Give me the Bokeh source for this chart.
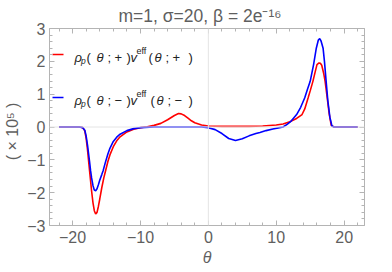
from bokeh.plotting import figure
from bokeh.models import Range1d, LinearAxis, SingleIntervalTicker, Span, Label, Title
from bokeh.embed import file_html
from bokeh.resources import INLINE

# ---- data (values in units of 1e5) ----
theta_red = [-22, -20, -19, -18.5, -18.2, -18.0, -17.8, -17.5, -17.2, -17.0,
             -16.8, -16.6, -16.4, -16.2, -16.0, -15.7, -15.4, -15.1, -14.8, -14.5,
             -14.0, -13.5, -13.0, -12.0, -11.0, -10.0, -9.0, -8.0, -7.0, -6.0,
             -5.0, -4.4, -4.0, -3.5, -3.0, -2.5, -2.0, -1.0, 0, 2,
             4, 6, 8, 10, 11, 12, 13, 13.8, 14.2, 14.7,
             15.0, 15.4, 15.7, 16.0, 16.3, 16.5, 16.7, 17.0, 17.2, 17.5,
             17.8, 18.1, 18.5, 20, 22]
val_red = [0, 0, 0, -0.02, -0.12, -0.35, -0.7, -1.33, -1.95, -2.3,
           -2.55, -2.65, -2.6, -2.42, -2.2, -1.85, -1.55, -1.3, -1.05, -0.85,
           -0.6, -0.42, -0.3, -0.15, -0.07, -0.02, 0.01, 0.05, 0.11, 0.22,
           0.35, 0.41, 0.40, 0.35, 0.27, 0.19, 0.13, 0.06, 0.03, 0.02,
           0.02, 0.02, 0.03, 0.06, 0.09, 0.16, 0.26, 0.38, 0.55, 0.89,
           1.1, 1.39, 1.65, 1.9, 1.95, 1.94, 1.88, 1.62, 1.39, 0.9,
           0.4, 0.05, 0, 0, 0]

theta_blue = [-22, -20, -19, -18.5, -18.2, -18.0, -17.8, -17.5, -17.35, -17.2,
              -17.0, -16.8, -16.6, -16.4, -16.2, -16.0, -15.7, -15.5, -15.2, -14.8,
              -14.5, -14.0, -13.5, -13.0, -12.0, -11.0, -10.0, -8.0, -6.0, -4.0,
              -2.0, -1.0, 0, 1, 2, 3, 4, 5, 6, 7,
              7.6, 8.5, 9.5, 10.5, 11, 11.6, 12.2, 13.0, 13.6, 14.2,
              14.6, 15.0, 15.5, 15.9, 16.2, 16.4, 16.6, 16.9, 17.1, 17.35,
              17.6, 17.9, 18.2, 18.5, 20, 22]
val_blue = [0, 0, 0, -0.02, -0.1, -0.28, -0.55, -1.05, -1.33, -1.55,
            -1.78, -1.92, -1.94, -1.88, -1.76, -1.62, -1.45, -1.33, -1.1, -0.82,
            -0.65, -0.44, -0.31, -0.22, -0.11, -0.05, -0.02, 0, 0, 0,
            0, 0, -0.02, -0.08, -0.2, -0.35, -0.41, -0.36, -0.27, -0.2,
            -0.17, -0.11, -0.06, -0.02, 0.0, 0.08, 0.18, 0.38, 0.6, 0.89,
            1.15, 1.39, 1.9, 2.4, 2.65, 2.69, 2.62, 2.4, 2.0, 1.39,
            0.8, 0.3, 0.03, 0, 0, 0]

x_ticks_minus = {-20: "\u221220", -10: "\u221210"}
y_ticks_minus = {-1: "\u22121", -2: "\u22122", -3: "\u22123"}

title_text = "m=1, \u03c3=20, \u03b2 = 2e\u207b\u00b9\u2076"
x_label = "\u03b8"
y_label = "(  \u00d7 10\u2075  )"

FONT = "Liberation Sans"
GRAY = "#5f5f5f"
FRAME = "#b4b4b4"

X0, X1 = -23.4, 23.0
Y0, Y1 = -3.0, 3.0
W, H = 392, 272
BL, BR, BT, BB = 49, 28, 28, 47
FW, FH = W - BL - BR, H - BT - BB

p = figure(width=W, height=H, output_backend="svg", toolbar_location=None,
           title=None, x_range=Range1d(X0, X1), y_range=Range1d(Y0, Y1),
           min_border_left=BL, min_border_right=BR, min_border_top=BT,
           min_border_bottom=BB, x_axis_type=None, y_axis_type=None)
p.outline_line_color = None
p.xgrid.visible = False
p.ygrid.visible = False
p.background_fill_color = "white"
p.border_fill_color = "white"


def make_axis(ticker, show_labels, overrides):
    ax = LinearAxis(ticker=ticker)
    ax.axis_line_color = FRAME
    ax.major_tick_line_color = FRAME
    ax.minor_tick_line_color = FRAME
    ax.major_tick_in = 5
    ax.major_tick_out = 0
    ax.minor_tick_in = 3
    ax.minor_tick_out = 0
    ax.major_label_text_font = FONT
    if show_labels:
        ax.major_label_text_color = GRAY
        ax.major_label_text_font_size = "16px"
        ax.major_label_overrides = overrides
    else:
        ax.major_label_text_color = None
        ax.major_label_text_font_size = "1px"
        ax.major_label_standoff = 0
    return ax


xb = make_axis(SingleIntervalTicker(interval=10, num_minor_ticks=5), True, x_ticks_minus)
xb.major_label_standoff = 5
xb.axis_label = x_label
xb.axis_label_text_font = FONT
xb.axis_label_text_font_style = "italic"
xb.axis_label_text_font_size = "16px"
xb.axis_label_text_color = GRAY
xb.axis_label_standoff = 3

yl = make_axis(SingleIntervalTicker(interval=1, num_minor_ticks=5), True, y_ticks_minus)
yl.major_label_standoff = 4
yl.axis_label = y_label
yl.axis_label_text_font = FONT
yl.axis_label_text_font_style = "normal"
yl.axis_label_text_font_size = "16px"
yl.axis_label_text_color = GRAY
yl.axis_label_standoff = 3

xt = make_axis(SingleIntervalTicker(interval=10, num_minor_ticks=5), False, {})
yr = make_axis(SingleIntervalTicker(interval=1, num_minor_ticks=5), False, {})
p.add_layout(xb, "below")
p.add_layout(yl, "left")
p.add_layout(xt, "above")
p.add_layout(yr, "right")

p.add_layout(Title(text=title_text, align="left", offset=69, standoff=5,
                   text_font=FONT, text_font_size="17.5px", text_color=GRAY,
                   text_font_style="normal"), "above")

p.add_layout(Span(location=0, dimension="width", line_color="#e4e4e4", line_width=1))
p.add_layout(Span(location=0, dimension="height", line_color="#e4e4e4", line_width=1))

p.line(theta_red, val_red, line_color="#ff0000", line_width=1.6)
p.line(theta_blue, val_blue, line_color="#0000ff", line_width=1.6)


# page pixel -> data coordinates (for legend placement inside the frame)
def dx(px):
    return X0 + (px - BL) * (X1 - X0) / FW


def dy(py):
    return Y1 - (py - BT) * (Y1 - Y0) / FH


def txt(s, px, py, size=13, italic=False, color="#222222"):
    p.add_layout(Label(x=dx(px), y=dy(py), text=s, text_font=FONT,
                       text_font_size=f"{size}px",
                       text_font_style="italic" if italic else "normal",
                       text_color=color, text_align="left",
                       text_baseline="alphabetic"))


# legend swatches
p.segment(x0=[dx(52), dx(52)], y0=[dy(54), dy(97)], x1=[dx(63), dx(63)],
          y1=[dy(54), dy(97)], line_color=["#ff0000", "#0000ff"], line_width=1.6)

# legend text
for py, sign, shift in [(57, "+", 0), (100, "\u2212", 2)]:
    txt("\u03c1", 74, py, italic=True)
    txt("p", 80.5, py + 3, size=8.5, italic=True)
    txt("(", 86, py)
    txt("\u03b8", 96, py, italic=True)
    txt(";", 107, py)
    txt(sign, 114, py)
    txt(")", 126, py)
    txt("v", 130, py, italic=True)
    txt("eff", 136, py - 7, size=9)
    txt("(", 148 + shift, py)
    txt("\u03b8", 154 + shift, py, italic=True)
    txt(";", 165 + shift, py)
    txt(sign, 172 + shift, py)
    txt(")", 188, py)

open("out.html", "w").write(file_html(p, INLINE))
